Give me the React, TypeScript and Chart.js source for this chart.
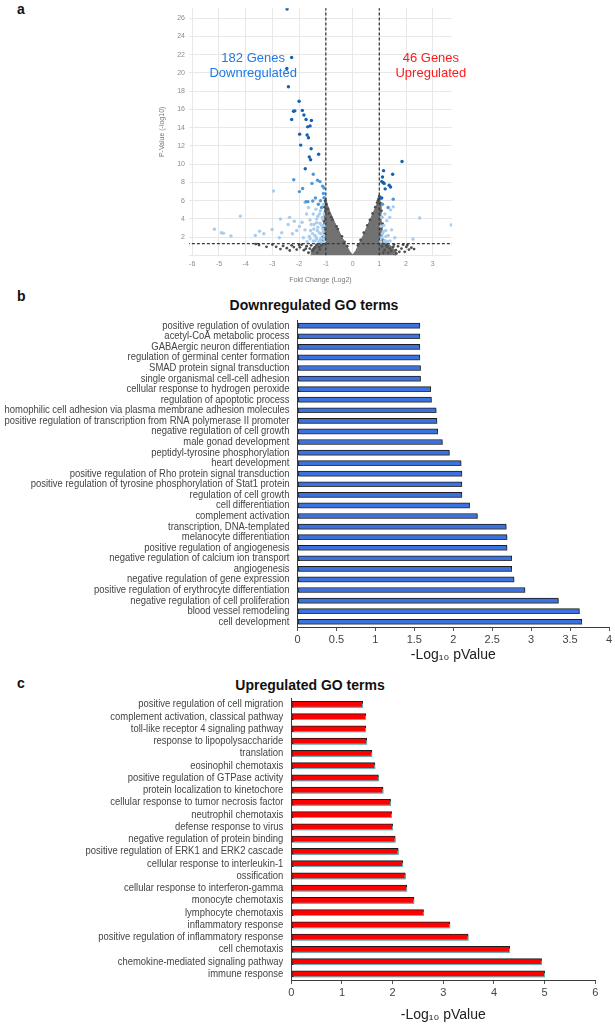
import React, { useEffect, useRef } from "react";
import { Chart, registerables } from "chart.js";

Chart.register(...registerables);

const FONT = "'Liberation Sans', Arial, Helvetica, sans-serif";

// ---------- Panel a: volcano plot ----------
const volcanoXTicks = [-6, -5, -4, -3, -2, -1, 0, 1, 2, 3];
const volcanoYTicks = [0, 2, 4, 6, 8, 10, 12, 14, 16, 18, 20, 22, 24, 26];
const foldChangeCutoffs = [-1, 1];
const pValueCutoff = 1.3;
const volcanoXTitle = "Fold Change (Log2)";
const volcanoYTitle = "P-Value (-log10)";
const downLabel = ["182 Genes", "Downregulated"];
const upLabel = ["46 Genes", "Upregulated"];

// dense, non-significant core of the plot (outline of the grey mass)
const coreEnvelope: number[][] = [
  [-1.55, 0], [-1.55, 0.6], [-1.4, 1.1], [-1.2, 1.4], [-1.1, 2.2], [-1.08, 3.5], [-1.06, 4.8],
  [-1.04, 5.9], [-1.0, 6.3], [-0.95, 5.6], [-0.85, 4.8], [-0.7, 3.8], [-0.55, 2.9], [-0.4, 2.0],
  [-0.25, 1.2], [-0.12, 0.5], [0, 0.05], [0.12, 0.5], [0.25, 1.3], [0.4, 2.2], [0.55, 3.2],
  [0.7, 4.2], [0.85, 5.2], [0.95, 5.9], [1.0, 6.4], [1.04, 5.8], [1.06, 4.6], [1.08, 3.2],
  [1.1, 2.0], [1.25, 1.4], [1.45, 1.0], [1.6, 0.5], [1.6, 0],
];

const grayGenes: number[][] = [
  [-3.62, 1.25], [-3.5, 1.15], [-3.22, 0.95], [-2.86, 0.95], [-2.6, 1.05], [-2.46, 0.8],
  [-2.28, 1.12], [-2.2, 0.92], [-2.09, 0.65], [-1.97, 0.9], [-1.82, 0.58], [-1.72, 1.02],
  [-1.6, 0.76], [-1.5, 0.5], [-1.41, 0.88], [-1.32, 0.32], [-1.22, 0.65], [-1.16, 1.12],
  [-1.9, 1.2], [-2.35, 0.55], [-1.65, 0.3], [-1.35, 1.15], [-1.25, 0.9], [-1.45, 0.7],
  [-1.55, 1.1], [-1.75, 0.75], [-2.0, 1.15], [-2.7, 0.7], [-3.0, 1.2],
  [1.27, 1.12], [1.39, 0.76], [1.52, 0.94], [1.62, 0.58], [1.7, 1.0], [1.83, 0.76],
  [1.95, 0.4], [2.01, 0.94], [2.11, 0.65], [2.2, 0.86], [1.89, 1.19], [1.45, 0.5],
  [1.64, 0.22], [1.33, 0.29], [1.2, 0.6], [1.3, 0.95], [1.55, 1.2], [1.75, 0.4],
  [2.05, 1.15], [1.1, 1.0], [1.15, 0.3], [2.3, 0.7],
  [-1.03, 6.0], [-1.05, 5.3], [-1.02, 4.8], [-0.98, 5.6], [-0.92, 5.1], [-0.88, 4.6],
  [-1.08, 3.8], [-1.1, 3.0], [-1.05, 2.4], [-1.12, 2.0], [-0.8, 4.2], [-0.75, 3.9],
  [-0.6, 3.2], [-0.55, 2.9], [-0.4, 2.1], [-0.3, 1.5], [-0.2, 1.0], [0.2, 1.1], [0.3, 1.7],
  [0.42, 2.5], [0.55, 3.3], [0.65, 3.9], [0.75, 4.6], [0.85, 5.3], [0.92, 5.8], [0.97, 6.2],
  [1.0, 6.5], [1.05, 5.7], [1.08, 4.9], [1.1, 4.2], [1.12, 3.5], [1.06, 3.0], [0.95, 6.0],
];

const lightBlueGenes: number[][] = [
  [-5.17, 2.88], [-4.91, 2.49], [-4.83, 2.45], [-4.55, 2.13], [-4.2, 4.32], [-3.64, 2.2],
  [-3.48, 2.67], [-3.32, 2.38], [-3.01, 2.85], [-2.96, 7.06], [-2.74, 1.95], [-2.65, 2.49],
  [-2.7, 4.0], [-2.41, 3.39], [-2.36, 4.18], [-2.18, 3.75], [-2.25, 2.38], [-2.09, 2.74],
  [-1.99, 3.17], [-1.89, 3.64], [-1.78, 2.81], [-1.78, 5.8], [-1.72, 4.54], [-1.65, 5.26],
  [-1.59, 3.89], [-1.57, 2.74], [-1.47, 4.54], [-1.44, 3.39], [-1.41, 2.2], [-1.37, 5.08],
  [-1.34, 4.0], [-1.32, 2.74], [-1.24, 4.54], [-1.22, 3.53], [-1.19, 2.38], [-1.13, 4.18],
  [-1.12, 2.92], [-1.09, 1.84], [-1.06, 4.54], [-1.34, 1.84], [-1.59, 1.84], [-1.84, 1.95],
  [-1.22, 1.66], [-1.47, 1.59], [-1.05, 1.5], [-1.1, 2.6], [-1.15, 3.3], [-1.18, 1.9],
  [-1.25, 2.5], [-1.3, 3.1], [-1.35, 3.6], [-1.4, 1.6], [-1.45, 2.9], [-1.12, 4.0],
  [-1.2, 4.9], [-1.3, 4.3], [-1.08, 2.2], [-1.14, 1.45], [-1.26, 1.5], [-1.36, 2.0],
  [-1.5, 2.4], [-1.55, 3.4], [-1.62, 2.1], [-1.7, 1.5], [-1.05, 3.3], [-1.1, 5.6],
  [1.21, 4.54], [1.28, 3.82], [1.24, 2.74], [1.42, 5.0], [1.52, 5.33], [1.39, 4.18],
  [1.58, 1.95], [1.12, 2.38], [1.17, 3.28], [1.08, 4.18], [1.33, 2.2], [1.04, 1.84],
  [1.21, 1.66], [2.26, 1.8], [2.51, 4.11], [3.69, 3.35], [1.46, 2.81], [1.05, 1.5],
  [1.1, 2.0], [1.15, 2.6], [1.2, 1.5], [1.25, 2.1], [1.06, 3.2], [1.3, 1.5], [1.4, 1.6],
];

const mediumBlueGenes: number[][] = [
  [-1.47, 8.9], [-2.2, 8.3], [-1.31, 8.25], [-1.22, 8.1], [-1.52, 7.9], [-1.12, 7.6],
  [-1.07, 7.4], [-1.87, 7.35], [-1.99, 7.0], [-1.09, 6.8], [-1.39, 6.3], [-1.67, 5.9],
  [-1.74, 5.9], [-1.07, 6.34], [-1.28, 5.62], [-1.16, 5.26], [-1.49, 5.98], [-1.2, 6.0],
  [1.52, 6.16], [1.12, 5.62], [1.33, 5.26],
];

const darkBlueGenes: number[][] = [
  [-2.45, 27.0], [-2.28, 21.7], [-2.46, 20.5], [-2.4, 18.5], [-2.0, 16.9], [-2.21, 15.8],
  [-2.16, 15.85], [-2.28, 14.9], [-1.88, 15.9], [-1.82, 15.4], [-1.74, 14.9], [-1.54, 14.8],
  [-1.59, 14.2], [-1.68, 14.1], [-1.98, 13.3], [-1.7, 13.2], [-1.65, 12.9], [-1.55, 11.7],
  [-1.94, 12.1], [-1.27, 11.1], [-1.62, 10.8], [-1.57, 10.5], [-1.77, 9.5],
  [1.85, 10.3], [1.16, 9.3], [1.5, 8.9], [1.12, 8.6], [1.09, 8.1], [1.14, 8.0], [1.18, 7.9],
  [1.37, 7.7], [1.42, 7.5], [1.04, 6.3], [1.09, 6.3], [1.22, 7.3],
];

// ---------- Panel b: downregulated GO terms ----------
const downTitle = "Downregulated GO terms";
const downTerms = [
  "positive regulation of ovulation",
  "acetyl-CoA metabolic process",
  "GABAergic neuron differentiation",
  "regulation of germinal center formation",
  "SMAD protein signal transduction",
  "single organismal cell-cell adhesion",
  "cellular response to hydrogen peroxide",
  "regulation of apoptotic process",
  "homophilic cell adhesion via plasma membrane adhesion molecules",
  "positive regulation of transcription from RNA polymerase II promoter",
  "negative regulation of cell growth",
  "male gonad development",
  "peptidyl-tyrosine phosphorylation",
  "heart development",
  "positive regulation of Rho protein signal transduction",
  "positive regulation of tyrosine phosphorylation of Stat1 protein",
  "regulation of cell growth",
  "cell differentiation",
  "complement activation",
  "transcription, DNA-templated",
  "melanocyte differentiation",
  "positive regulation of angiogenesis",
  "negative regulation of calcium ion transport",
  "angiogenesis",
  "negative regulation of gene expression",
  "positive regulation of erythrocyte differentiation",
  "negative regulation of cell proliferation",
  "blood vessel remodeling",
  "cell development",
];
const downValues = [
  1.57, 1.57, 1.57, 1.57, 1.58, 1.58, 1.71, 1.72, 1.78, 1.79, 1.8, 1.86, 1.95, 2.1, 2.11,
  2.11, 2.11, 2.21, 2.31, 2.68, 2.69, 2.69, 2.75, 2.75, 2.78, 2.92, 3.35, 3.62, 3.65,
];
const downTicks = [0, 0.5, 1, 1.5, 2, 2.5, 3, 3.5, 4];

// ---------- Panel c: upregulated GO terms ----------
const upTitle = "Upregulated GO terms";
const upTerms = [
  "positive regulation of cell migration",
  "complement activation, classical pathway",
  "toll-like receptor 4 signaling pathway",
  "response to lipopolysaccharide",
  "translation",
  "eosinophil chemotaxis",
  "positive regulation of GTPase activity",
  "protein localization to kinetochore",
  "cellular response to tumor necrosis factor",
  "neutrophil chemotaxis",
  "defense response to virus",
  "negative regulation of protein binding",
  "positive regulation of ERK1 and ERK2 cascade",
  "cellular response to interleukin-1",
  "ossification",
  "cellular response to interferon-gamma",
  "monocyte chemotaxis",
  "lymphocyte chemotaxis",
  "inflammatory response",
  "positive regulation of inflammatory response",
  "cell chemotaxis",
  "chemokine-mediated signaling pathway",
  "immune response",
];
const upValues = [
  1.41, 1.47, 1.47, 1.49, 1.59, 1.65, 1.72, 1.81, 1.96, 1.98, 2.0, 2.05, 2.11, 2.2, 2.25,
  2.28, 2.42, 2.61, 3.13, 3.49, 4.31, 4.94, 5.0,
];
const upTicks = [0, 1, 2, 3, 4, 5, 6];

const xAxisTitle = "-Log\u2081\u2080 pValue";

const toPoints = (arr: number[][]) => arr.map(([x, y]) => ({ x, y }));

function VolcanoChart() {
  const ref = useRef<HTMLCanvasElement>(null);
  useEffect(() => {
    const annotations = {
      id: "volcanoLabels",
      afterDatasetsDraw(chart: any) {
        const { ctx, scales } = chart;
        const xs = scales.x;
        const ys = scales.y;
        ctx.save();
        ctx.font = `13px ${FONT}`;
        ctx.textAlign = "center";
        ctx.textBaseline = "middle";
        const items = [
          { lines: downLabel, x: -3.72, y: 21.57, color: "#1f7ae8" },
          { lines: upLabel, x: 2.93, y: 21.57, color: "#ff1a1a" },
        ];
        items.forEach((it) => {
          ctx.fillStyle = it.color;
          it.lines.forEach((t, i) => {
            ctx.fillText(t, xs.getPixelForValue(it.x), ys.getPixelForValue(it.y - i * 1.62));
          });
        });
        ctx.restore();
      },
    };
    const dash = { borderColor: "#3a3a3a", borderWidth: 1.3, borderDash: [3, 2], pointRadius: 0, showLine: true, fill: false };
    const chart = new Chart(ref.current!, {
      type: "scatter",
      data: {
        datasets: [
          { label: "p threshold", data: [{ x: -6.2, y: pValueCutoff }, { x: 3.8, y: pValueCutoff }], ...dash, order: 0 } as any,
          { label: "fc low", data: [{ x: foldChangeCutoffs[0], y: 0 }, { x: foldChangeCutoffs[0], y: 28 }], ...dash, order: 0 } as any,
          { label: "fc high", data: [{ x: foldChangeCutoffs[1], y: 0 }, { x: foldChangeCutoffs[1], y: 28 }], ...dash, order: 0 } as any,
          { label: "dark", data: toPoints(darkBlueGenes), backgroundColor: "#1461ad", borderWidth: 0, pointRadius: 1.7, order: 1 },
          { label: "medium", data: toPoints(mediumBlueGenes), backgroundColor: "#4e98d8", borderWidth: 0, pointRadius: 1.7, order: 2 },
          { label: "light", data: toPoints(lightBlueGenes), backgroundColor: "#a9cdee", borderWidth: 0, pointRadius: 1.7, order: 3 },
          { label: "grey", data: toPoints(grayGenes), backgroundColor: "#4f4f4f", borderWidth: 0, pointRadius: 1.4, order: 4 },
          {
            label: "core", data: toPoints(coreEnvelope), showLine: true, fill: "origin",
            backgroundColor: "#727272", borderColor: "#727272", borderWidth: 1, pointRadius: 0, tension: 0, order: 5,
          } as any,
        ],
      },
      options: {
        animation: false,
        responsive: false,
        maintainAspectRatio: false,
        layout: { padding: { top: 5, right: 18, left: 0, bottom: 0 } },
        plugins: { legend: { display: false }, tooltip: { enabled: false } },
        scales: {
          x: {
            type: "linear",
            min: -6.12,
            max: 3.72,
            afterBuildTicks: (s: any) => { s.ticks = volcanoXTicks.map((v) => ({ value: v })); },
            afterFit: (s: any) => { s.height = 39.5; },
            grid: { color: "#e8e8e8", drawTicks: false },
            border: { display: false },
            ticks: { font: { size: 7, family: FONT }, color: "#8c8c8c", padding: 4 },
            title: { display: true, text: volcanoXTitle, font: { size: 7, family: FONT }, color: "#777", padding: { top: 0, bottom: 10.8 } },
          },
          y: {
            type: "linear",
            min: 0,
            max: 27.1,
            afterBuildTicks: (s: any) => { s.ticks = volcanoYTicks.map((v) => ({ value: v })); },
            afterFit: (s: any) => { s.width = 49; },
            grid: { color: "#e8e8e8", drawTicks: false },
            border: { display: false },
            ticks: { font: { size: 7, family: FONT }, color: "#8c8c8c", padding: 4, callback: (v: any) => (v === 0 ? "" : String(v)) },
            title: { display: true, text: volcanoYTitle, font: { size: 7, family: FONT }, color: "#777", padding: { top: 17.8, bottom: 0 } },
          },
        },
      },
      plugins: [annotations],
    });
    return () => chart.destroy();
  }, []);
  return <canvas ref={ref} width={330} height={295} style={{ position: "absolute", left: 140, top: 0, width: 330, height: 295 }} />;
}

function makeShadow(color: string) {
  return {
    id: "barShadow",
    beforeDatasetsDraw(chart: any) {
      const c = chart.ctx;
      c.save();
      c.shadowColor = color;
      c.shadowOffsetX = 1;
      c.shadowOffsetY = 1.5;
      c.shadowBlur = 0;
    },
    afterDatasetsDraw(chart: any) {
      chart.ctx.restore();
    },
  };
}

// draws the category labels of the y axis in a horizontally condensed Arial
const condensedLabels = {
  id: "condensedLabels",
  afterDraw(chart: any) {
    const ys = chart.scales.y;
    const labels: string[] = chart.data.labels;
    const ctx = chart.ctx;
    ctx.save();
    ctx.font = `11px ${FONT}`;
    ctx.fillStyle = "#444";
    ctx.textAlign = "right";
    ctx.textBaseline = "middle";
    labels.forEach((t, i) => {
      ctx.save();
      ctx.translate(ys.right - 8, ys.getPixelForValue(i));
      ctx.scale(0.86, 1);
      ctx.fillText(t, 0, 0);
      ctx.restore();
    });
    ctx.restore();
  },
};

interface BarProps {
  terms: string[];
  values: number[];
  ticks: number[];
  max: number;
  fill: string;
  shadow: string;
  top: number;
  height: number;
  width: number;
  padTop: number;
  axisHeight: number;
  yAxisWidth: number;
  padRight: number;
  titleBottom: number;
  thickness: number;
}

function GoBarChart(p: BarProps) {
  const ref = useRef<HTMLCanvasElement>(null);
  useEffect(() => {
    const chart = new Chart(ref.current!, {
      type: "bar",
      data: {
        labels: p.terms,
        datasets: [
          {
            data: p.values,
            backgroundColor: p.fill,
            borderColor: "#1c1c1c",
            borderWidth: 1,
            borderSkipped: false,
            barThickness: p.thickness,
          } as any,
        ],
      },
      options: {
        indexAxis: "y",
        animation: false,
        responsive: false,
        maintainAspectRatio: false,
        layout: { padding: { top: p.padTop, right: p.padRight, left: 0, bottom: 0 } },
        plugins: { legend: { display: false }, tooltip: { enabled: false } },
        scales: {
          x: {
            type: "linear",
            min: 0,
            max: p.max,
            afterBuildTicks: (s: any) => { s.ticks = p.ticks.map((v) => ({ value: v })); },
            afterFit: (s: any) => { s.height = p.axisHeight; },
            grid: { display: true, drawOnChartArea: false, drawTicks: true, tickLength: 4, color: "#555" },
            border: { display: true, color: "#3a3a3a", width: 1 },
            ticks: { font: { size: 11, family: FONT }, color: "#444", padding: 2, callback: (v: any) => String(v) },
            title: { display: true, text: xAxisTitle, font: { size: 14, family: FONT }, color: "#222", padding: { top: 0, bottom: p.titleBottom } },
          },
          y: {
            type: "category",
            afterFit: (s: any) => { s.width = p.yAxisWidth; },
            grid: { display: false },
            border: { display: true, color: "#3a3a3a", width: 1 },
            ticks: { display: false, autoSkip: false },
          },
        },
      },
      plugins: [makeShadow(p.shadow), condensedLabels],
    });
    return () => chart.destroy();
  }, []);
  return (
    <canvas
      ref={ref}
      width={p.width}
      height={p.height}
      style={{ position: "absolute", left: 0, top: p.top, width: p.width, height: p.height }}
    />
  );
}

const letterStyle: React.CSSProperties = {
  position: "absolute",
  fontFamily: FONT,
  fontWeight: "bold",
  fontSize: 14,
  lineHeight: "16px",
  color: "#111",
};

const titleStyle: React.CSSProperties = {
  position: "absolute",
  left: 0,
  fontFamily: FONT,
  fontWeight: "bold",
  fontSize: 14,
  lineHeight: "16px",
  color: "#111",
  textAlign: "center",
};

export default function App() {
  return (
    <div style={{ position: "absolute", left: 0, top: 0, width: 615, height: 1025, overflow: "hidden", background: "#fff" }}>
      <div style={{ ...letterStyle, left: 17, top: 1 }}>a</div>
      <VolcanoChart />
      <div style={{ ...letterStyle, left: 17, top: 288 }}>b</div>
      <div style={{ ...titleStyle, top: 297, width: 628 }}>{downTitle}</div>
      <GoBarChart
        terms={downTerms}
        values={downValues}
        ticks={downTicks}
        max={4}
        fill="#3a72e0"
        shadow="rgba(90,90,90,0.55)"
        top={312}
        height={358}
        width={615}
        padTop={8.4}
        axisHeight={43}
        yAxisWidth={297.5}
        padRight={6}
        titleBottom={6.6}
        thickness={5}
      />
      <div style={{ ...letterStyle, left: 17, top: 675 }}>c</div>
      <div style={{ ...titleStyle, top: 677, width: 620 }}>{upTitle}</div>
      <GoBarChart
        terms={upTerms}
        values={upValues}
        ticks={upTicks}
        max={6}
        fill="#ff0000"
        shadow="rgba(110,200,210,0.9)"
        top={690}
        height={335}
        width={615}
        padTop={8.2}
        axisHeight={45}
        yAxisWidth={291.3}
        padRight={19.7}
        titleBottom={1.6}
        thickness={6}
      />
    </div>
  );
}
